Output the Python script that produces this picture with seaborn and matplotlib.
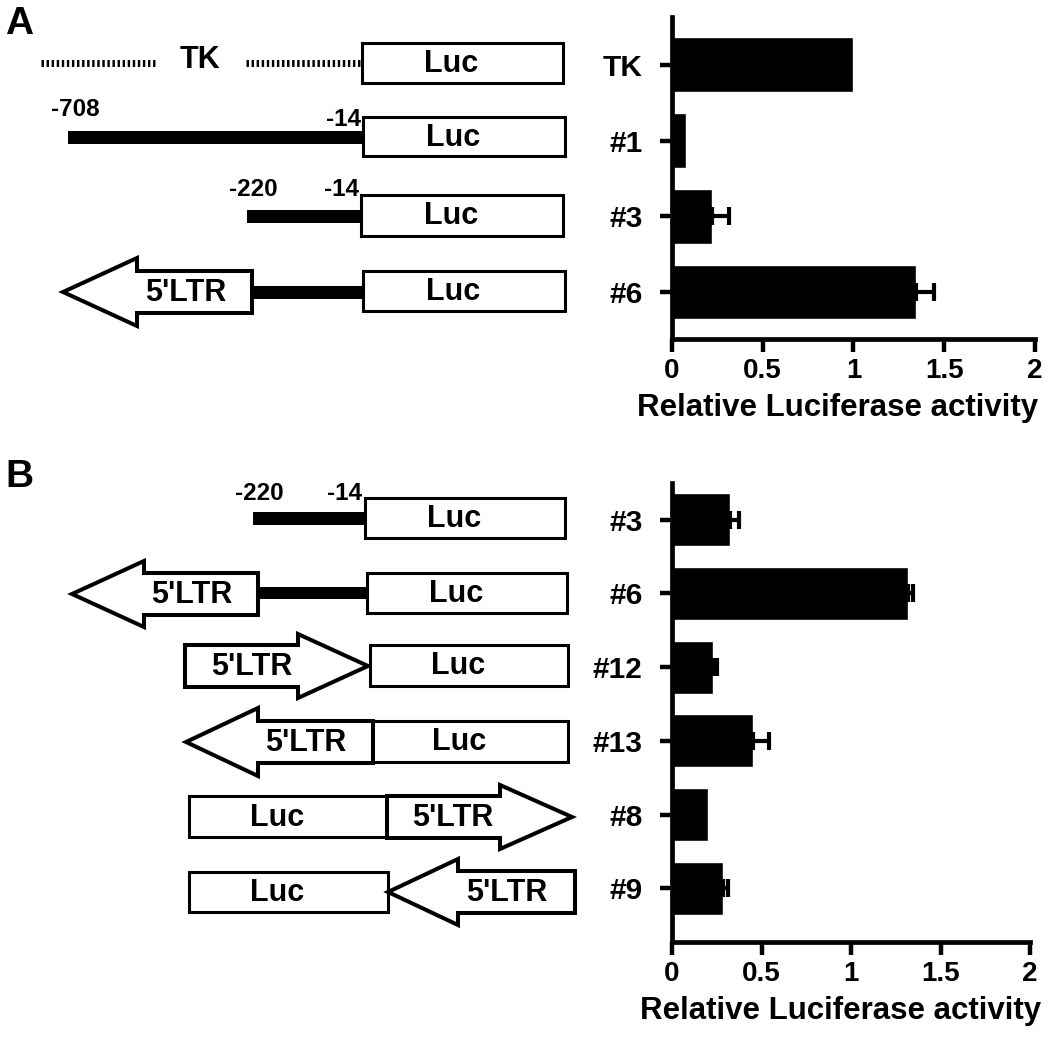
import numpy as np
import pandas as pd
import matplotlib
matplotlib.use("Agg")
import matplotlib.pyplot as plt
from matplotlib.patches import Rectangle, Polygon
import seaborn as sns

# bar chart data
constructs_a = ["TK", "#1", "#3", "#6"]
activity_a = [1.0, 0.075, 0.22, 1.345]
error_a = [0.0, 0.0, 0.095, 0.10]

constructs_b = ["#3", "#6", "#12", "#13", "#8", "#9"]
activity_b = [0.324, 1.317, 0.227, 0.452, 0.203, 0.287]
error_b = [0.05, 0.03, 0.024, 0.09, 0.0, 0.028]

xtick_values = [0, 0.5, 1, 1.5, 2]
xtick_labels = ["0", "0.5", "1", "1.5", "2"]
xlabel = "Relative Luciferase activity"

sns.set_style("ticks")
plt.rcParams["font.family"] = ["Liberation Sans", "DejaVu Sans"]
plt.rcParams["font.weight"] = "bold"
for key in ["text.color", "axes.labelcolor", "xtick.color", "ytick.color", "axes.edgecolor"]:
    plt.rcParams[key] = "black"

fig = plt.figure(figsize=(10.5, 10.38), dpi=100)

# ---- schematic diagrams, drawn in pixel coordinates ----
dg = fig.add_axes([0, 0, 1, 1])
dg.set_xlim(0, 1050)
dg.set_ylim(1038, 0)
dg.axis("off")

BOX_LW = 2.2
ARR_LW = 2.9


def luc_box(x0, x1, y0, y1, text="Luc"):
    dg.add_patch(Rectangle((x0, y0), x1 - x0, y1 - y0, facecolor="white",
                           edgecolor="black", lw=BOX_LW, zorder=3))
    dg.text((x0 + x1) / 2 - 11, (y0 + y1) / 2 + 1, text, ha="center", va="center",
            fontsize=22, fontweight="bold", zorder=4)


def thick_bar(x0, x1, y0, y1):
    dg.add_patch(Rectangle((x0, y0), x1 - x0, y1 - y0, facecolor="black",
                           edgecolor="none", zorder=2))


def ltr_arrow(x_tip, x_base, x_end, yc, hh, bh, tx):
    pts = [(x_tip, yc), (x_base, yc - hh), (x_base, yc - bh), (x_end, yc - bh),
           (x_end, yc + bh), (x_base, yc + bh), (x_base, yc + hh)]
    dg.add_patch(Polygon(pts, closed=True, facecolor="white", edgecolor="black",
                         lw=ARR_LW, joinstyle="miter", zorder=3))
    dg.text(tx, yc + 1, "5'LTR", ha="center", va="center", fontsize=22,
            fontweight="bold", zorder=4)


def small(x, y, s, ha="center"):
    dg.text(x, y, s, ha=ha, va="center", fontsize=17.5, fontweight="bold", zorder=4)


# panel letters
dg.text(5, 24, "A", fontsize=28, fontweight="bold", ha="left", va="center")
dg.text(5, 477, "B", fontsize=28, fontweight="bold", ha="left", va="center")

# panel A
for xa, xb in [(41, 155), (246, 361)]:
    dg.plot([xa, xb], [63, 63], color="black", lw=5, solid_capstyle="butt",
            dashes=(0.35, 0.38), zorder=2)
dg.text(200, 60, "TK", ha="center", va="center", fontsize=22, fontweight="bold")
luc_box(362, 563, 43, 83)

small(75, 109, "-708")
small(361, 119, "-14", ha="right")
thick_bar(68, 364, 131, 144)
luc_box(363, 565, 117, 156)

small(253, 190, "-220")
small(359, 190, "-14", ha="right")
thick_bar(247, 362, 210, 223)
luc_box(361, 563, 195, 236)

thick_bar(252, 364, 286, 299)
ltr_arrow(63, 137, 252, 292, 34, 21, 186)
luc_box(363, 565, 271, 311)

# panel B
small(259, 493, "-220")
small(362, 493, "-14", ha="right")
thick_bar(253, 367, 512, 525)
luc_box(365, 565, 498, 538)

thick_bar(258, 368, 587, 599)
ltr_arrow(72, 144, 258, 594, 33, 21, 192)
luc_box(367, 567, 573, 613)

ltr_arrow(368, 298, 185, 666, 32, 21, 252)
luc_box(370, 568, 645, 686)

ltr_arrow(186, 258, 373, 742, 34, 21, 306)
luc_box(373, 568, 721, 762)

luc_box(189, 387, 796, 837)
ltr_arrow(572, 500, 387, 817, 32, 21, 453)

luc_box(189, 388, 872, 912)
ltr_arrow(388, 458, 575, 892, 33, 21, 507)


# ---- bar charts ----
def bar_panel(rect, cats, vals, errs, ylim, label_x):
    ax = fig.add_axes(rect)
    ax.set_facecolor("none")
    df = pd.DataFrame({"construct": cats, "activity": vals})
    sns.barplot(data=df, x="activity", y="construct", orient="h", color="black",
                saturation=1, width=0.72, errorbar=None, ax=ax)
    pos = np.arange(len(cats))
    errs = np.array(errs)
    keep = errs > 0
    ax.errorbar(np.array(vals)[keep], pos[keep],
                xerr=[np.zeros(keep.sum()), errs[keep]], fmt="none",
                ecolor="black", elinewidth=3, capsize=6.5, capthick=3)
    ax.set_xlim(0, 2)
    ax.set_ylim(*ylim)
    ax.set_xticks(xtick_values)
    ax.set_xticklabels(xtick_labels, fontsize=20, fontweight="bold")
    ax.set_yticks(pos)
    ax.set_yticklabels(cats, fontsize=21.5, fontweight="bold")
    ax.set_ylabel("")
    ax.set_xlabel(xlabel, fontsize=22.5, fontweight="bold", labelpad=6, x=label_x)
    sns.despine(ax=ax)
    for sp in ["left", "bottom"]:
        ax.spines[sp].set_linewidth(3.4)
    ax.tick_params(axis="y", length=9, width=3.2, pad=12)
    ax.tick_params(axis="x", length=9, width=3.2, pad=5)
    return ax


bar_panel([0.64, 0.6734, 0.3457, 0.3102], constructs_a, activity_a, error_a, (3.62, -0.63), 0.455)
bar_panel([0.64, 0.0925, 0.3410, 0.4422], constructs_b, activity_b, error_b, (5.73, -0.5), 0.47)

fig.savefig("out.png", dpi=100)
